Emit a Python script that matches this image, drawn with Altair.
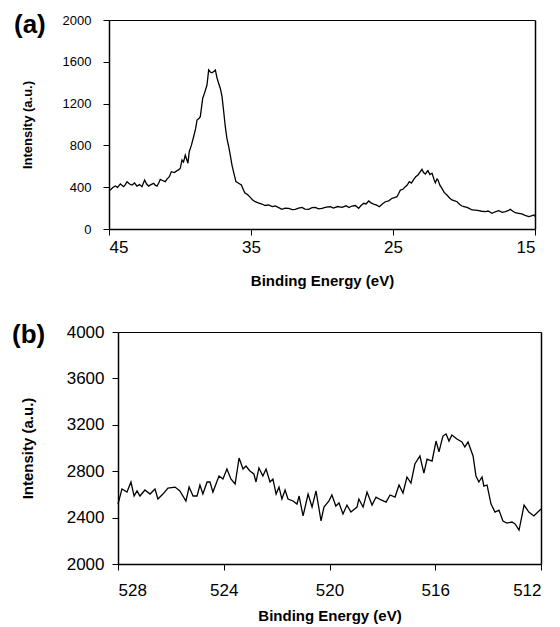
import altair as alt
import pandas as pd

FONT = "Liberation Sans"

a_energy = [45.0, 44.9, 44.75, 44.56, 44.4, 44.2, 43.97, 43.85, 43.73, 43.55, 43.38, 43.2, 43.03, 42.85,
            42.68, 42.49, 42.35, 42.21, 42.05, 41.85, 41.75, 41.62, 41.5, 41.39, 41.2, 41.04, 40.9, 40.75,
            40.61, 40.4, 40.21, 40.1, 39.98, 39.86, 39.75, 39.63, 39.44, 39.35, 39.2, 39.04, 38.9, 38.8,
            38.65, 38.57, 38.4, 38.25, 38.1, 37.98, 37.85, 37.75, 37.6, 37.51, 37.4, 37.28, 37.15, 37.04,
            36.92, 36.81, 36.7, 36.57, 36.45, 36.34, 36.2, 36.06, 35.9, 35.68, 35.55, 35.44, 35.25, 35.05,
            34.9, 34.7, 34.5, 34.23, 34.0, 33.76, 33.5, 33.29, 33.05, 32.82, 32.6, 32.35, 32.1, 31.88,
            31.65, 31.41, 31.2, 30.94, 30.7, 30.47, 30.25, 30.0, 29.7, 29.41, 29.2, 28.9, 28.59, 28.3,
            28.1, 27.89, 27.65, 27.42, 27.25, 27.06, 26.9, 26.71, 26.55, 26.36, 26.15, 25.96, 25.75, 25.54,
            25.3, 25.07, 24.9, 24.72, 24.6, 24.48, 24.3, 24.13, 24.0, 23.85, 23.7, 23.54, 23.4, 23.24,
            23.1, 22.96, 22.85, 22.72, 22.6, 22.54, 22.4, 22.25, 22.1, 22.02, 21.9, 21.83, 21.7, 21.55,
            21.4, 21.2, 21.0, 20.85, 20.65, 20.49, 20.3, 20.14, 20.0, 19.79, 19.6, 19.44, 19.2, 18.96,
            18.75, 18.5, 18.3, 18.03, 17.8, 17.56, 17.3, 17.09, 16.9, 16.74, 16.55, 16.39, 16.15, 15.92,
            15.7, 15.44, 15.25, 15.08, 15.0]
a_intensity = [370, 373, 395, 411, 398, 431, 405, 425, 453, 430, 421, 440, 411, 425,
               405, 469, 430, 411, 425, 437, 420, 411, 440, 475, 462, 453, 480, 501,
               548, 540, 558, 565, 581, 660, 640, 708, 629, 740, 800, 883, 960, 1043,
               1060, 1075, 1251, 1310, 1378, 1522, 1500, 1496, 1510, 1522, 1450, 1394, 1340, 1266,
               1120, 979, 870, 788, 700, 612, 530, 453, 440, 421, 380, 347, 330, 303,
               280, 261, 250, 239, 225, 230, 215, 220, 205, 188, 200, 198, 185, 188,
               200, 207, 190, 188, 205, 207, 192, 198, 210, 213, 200, 215, 207, 222,
               205, 220, 225, 198, 225, 246, 240, 268, 250, 239, 228, 213, 240, 261,
               270, 294, 300, 309, 340, 373, 380, 405, 420, 453, 440, 475, 500, 517,
               545, 571, 540, 526, 550, 558, 520, 533, 470, 443, 480, 469, 420, 389,
               350, 325, 295, 278, 270, 261, 235, 220, 215, 207, 195, 182, 180, 175,
               170, 166, 172, 150, 165, 175, 160, 166, 175, 188, 170, 156, 150, 144,
               130, 118, 125, 134, 120]

b_energy = [528.0, 527.85, 527.66, 527.51, 527.39, 527.28, 527.17, 526.98, 526.79, 526.6, 526.49, 526.3,
            526.11, 525.84, 525.66, 525.43, 525.31, 525.16, 525.01, 524.9, 524.79, 524.63, 524.52, 524.41,
            524.18, 524.03, 523.88, 523.73, 523.57, 523.42, 523.27, 523.16, 523.01, 522.86, 522.78, 522.67,
            522.52, 522.4, 522.25, 522.14, 522.02, 521.91, 521.8, 521.68, 521.57, 521.38, 521.23, 521.15,
            521.0, 520.81, 520.66, 520.51, 520.32, 520.21, 520.02, 519.91, 519.76, 519.64, 519.49, 519.34,
            519.19, 518.96, 518.89, 518.73, 518.58, 518.39, 518.24, 518.05, 517.86, 517.71, 517.52, 517.37,
            517.22, 517.07, 516.92, 516.77, 516.58, 516.43, 516.31, 516.12, 515.97, 515.86, 515.71, 515.59,
            515.48, 515.37, 515.18, 514.99, 514.88, 514.76, 514.57, 514.46, 514.35, 514.23, 514.16, 514.04,
            513.89, 513.74, 513.59, 513.44, 513.29, 513.1, 512.98, 512.83, 512.64, 512.46, 512.27, 512.0]
b_intensity = [2517, 2647, 2620, 2707, 2586, 2630, 2586, 2638, 2603, 2647, 2560, 2603,
               2655, 2663, 2630, 2543, 2663, 2586, 2586, 2681, 2603, 2707, 2707, 2620,
               2759, 2733, 2819, 2733, 2690, 2914, 2819, 2845, 2802, 2776, 2707, 2828,
               2759, 2819, 2707, 2733, 2603, 2663, 2560, 2638, 2560, 2543, 2517, 2586,
               2414, 2603, 2491, 2630, 2371, 2491, 2543, 2595, 2500, 2526, 2431, 2508,
               2448, 2491, 2560, 2491, 2620, 2508, 2577, 2552, 2534, 2595, 2577, 2681,
               2612, 2750, 2698, 2862, 2931, 2784, 2905, 2888, 3060, 2966, 3103, 3121,
               3060, 3112, 3078, 3052, 3009, 3052, 2931, 2759, 2707, 2750, 2672, 2681,
               2517, 2448, 2465, 2371, 2353, 2362, 2345, 2293, 2508, 2448, 2414, 2474]

a_xticks = [45, 35, 25, 15]
a_yticks = [0, 400, 800, 1200, 1600, 2000]
b_xticks = [528, 524, 520, 516, 512]
b_yticks = [2000, 2400, 2800, 3200, 3600, 4000]

x_title = "Binding Energy (eV)"
y_title = "Intensity (a.u.)"

df_a = pd.DataFrame({"E": a_energy, "I": a_intensity})
df_b = pd.DataFrame({"E": b_energy, "I": b_intensity})


def panel(df, xdom, xticks, ydom, yticks, label, w, h, ylab_size, xlab_size,
          y_lpad, y_tpad, x_lpad, x_tpad, lab_x, lab_y, inset=0, y_title_size=15):
    line = alt.Chart(df).mark_line(color="black", strokeWidth=1.3).encode(
        x=alt.X("E:Q",
                scale=alt.Scale(domain=xdom, reverse=True, nice=False, zero=False, range=[inset, w]),
                axis=alt.Axis(values=xticks, title=x_title, format="d",
                              labelFont=FONT, labelColor="black", labelFontSize=xlab_size,
                              labelPadding=x_lpad,
                              titleFont=FONT, titleFontSize=15, titleFontWeight="bold",
                              titleColor="black", titlePadding=x_tpad, grid=False,
                              domainColor="black", domainWidth=1.5, tickColor="black",
                              tickSize=6, tickWidth=1)),
        y=alt.Y("I:Q",
                scale=alt.Scale(domain=ydom, nice=False, zero=False),
                axis=alt.Axis(values=yticks, title=y_title, format="d", offset=-inset,
                              labelFont=FONT, labelColor="black", labelFontSize=ylab_size,
                              labelPadding=y_lpad, labelAlign="right",
                              titleFont=FONT, titleFontSize=y_title_size, titleFontWeight="bold",
                              titleColor="black", titlePadding=y_tpad, grid=False,
                              domainColor="black", domainWidth=1.5, tickColor="black",
                              tickSize=6, tickWidth=1)),
    )
    frame = alt.Chart(df).mark_line(opacity=0).encode(
        x=alt.X("E:Q", axis=alt.Axis(orient="top", labels=False, ticks=False, title=None,
                                     grid=False, domainColor="black", domainWidth=1)),
        y=alt.Y("I:Q", axis=alt.Axis(orient="right", labels=False, ticks=False, title=None,
                                     grid=False, domainColor="black", domainWidth=1.5)),
    )
    txt = alt.Chart(pd.DataFrame({"t": [label]})).mark_text(
        font=FONT, fontSize=26, fontWeight="bold", align="left", baseline="top", color="black"
    ).encode(text="t:N", x=alt.value(lab_x), y=alt.value(lab_y))
    return alt.layer(line, frame, txt).resolve_axis(x="independent", y="independent").properties(
        width=w, height=h, view=alt.ViewBackground(stroke=None))


chart_a = panel(df_a, [15, 45], a_xticks, [0, 2000], a_yticks, "(a)", 426, 209,
                13, 17, 12, 28, 4, 18, -95, -8, inset=0, y_title_size=13)
chart_b = panel(df_b, [512, 528], b_xticks, [2000, 4000], b_yticks, "(b)", 432, 232,
                17, 17, 8, 31, 12, 10, -97, -10, inset=9, y_title_size=15)

chart = alt.vconcat(chart_a, chart_b, spacing=34).properties(
    padding={"left": 12, "top": 12, "right": 0, "bottom": 2},
    background="white"
)

chart.save("out.html", embed_options={"renderer": "svg", "actions": False})
